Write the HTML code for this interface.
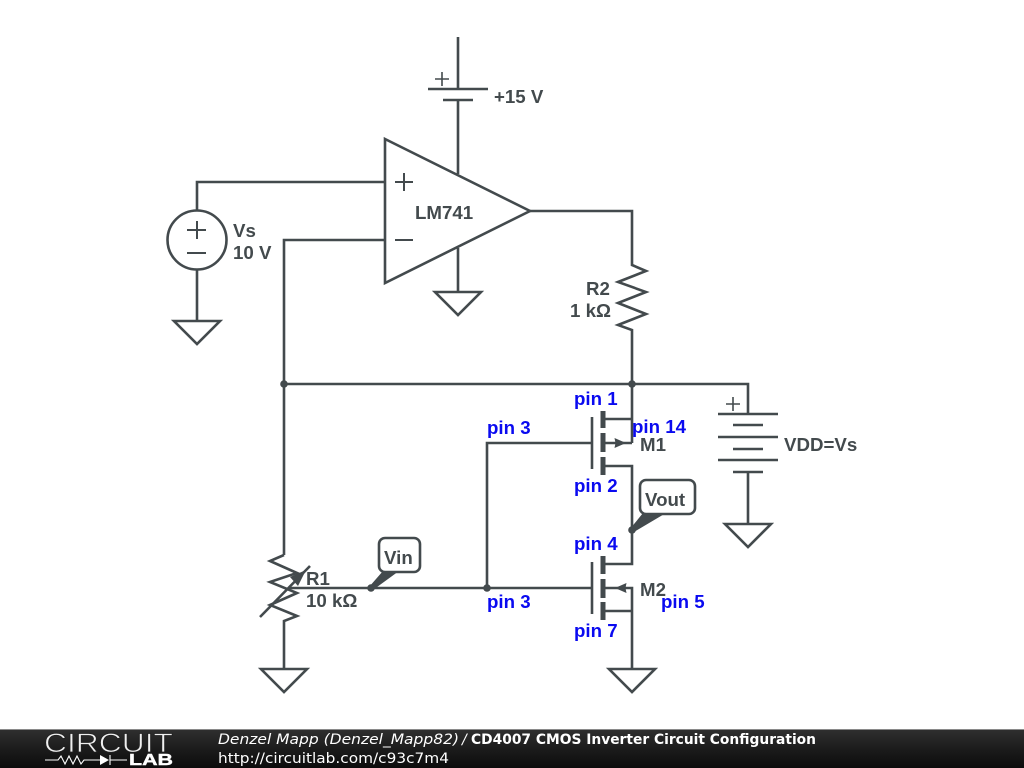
<!DOCTYPE html>
<html>
<head>
<meta charset="utf-8">
<title>CD4007 CMOS Inverter Circuit Configuration</title>
<style>
html,body{margin:0;padding:0;background:#fff;width:1024px;height:768px;overflow:hidden}
svg{display:block}
.w{fill:none;stroke:#434a4d;stroke-width:2.6;stroke-linejoin:miter}
.s{fill:none;stroke:#434a4d;stroke-width:2}
.t{font-family:"Liberation Sans",sans-serif;font-weight:bold;font-size:18.7px;fill:#434a4d}
.p{font-family:"Liberation Sans",sans-serif;font-weight:bold;font-size:18.7px;fill:#0a0af0}
.f{font-family:"DejaVu Sans",sans-serif;font-size:14px;fill:#fff}
</style>
</head>
<body>
<svg width="1024" height="768" viewBox="0 0 1024 768" xmlns="http://www.w3.org/2000/svg">
<defs>
<linearGradient id="bar" x1="0" y1="0" x2="0" y2="1">
<stop offset="0" stop-color="#303030"/><stop offset=".5" stop-color="#1c1c1c"/><stop offset="1" stop-color="#0c0c0c"/>
</linearGradient>
</defs>
<rect width="1024" height="768" fill="#fff"/>

<!-- supply battery -->
<path class="w" d="M458 37V89M428 89H488M443 100H473M458 100V174"/>
<path class="w" style="stroke-width:1.6" d="M435 79H449M442 72V86"/>
<text class="t" x="494" y="103">+15 V</text>

<!-- op amp -->
<path class="w" d="M385 139L530 211L385 283Z"/>
<path class="s" d="M395 182H413M404 173V191M395 240H413"/>
<text class="t" x="415" y="219">LM741</text>
<path class="w" d="M458 248V292M435 292H481L458 315Z"/>

<!-- Vs -->
<path class="w" d="M385 182H197V210M197 269V321M174 321H220L197 344Z"/>
<circle class="w" cx="197" cy="240" r="29.5"/>
<path class="s" d="M187 230H206M197 221V239M187 253H206"/>
<text class="t" x="233" y="237">Vs</text>
<text class="t" x="233" y="259">10 V</text>

<!-- feedback -->
<path class="w" d="M385 240H284V555"/>
<path class="w" d="M284 384H748V414"/>

<!-- output and R2 -->
<path class="w" d="M530 211H632V265L646 271L618 282L646 292L618 303L646 314L618 325L632 330V443"/>
<text class="t" x="586" y="295">R2</text>
<text class="t" x="570" y="317">1 kΩ</text>

<!-- VDD battery -->
<path class="w" d="M718 414H778M733 425H763M718 437H778M733 449H763M718 460H778M733 472H763M748 472V524M725 524H771L748 547Z"/>
<path class="w" style="stroke-width:1.6" d="M726 404H740M733 397V411"/>
<text class="t" x="784" y="451">VDD=Vs</text>

<!-- R1 -->
<path class="w" d="M284 555L270 561L297 573L270 582L297 593L270 605L297 616L284 621V669M261 669H307L284 692Z"/>
<path class="w" d="M260 617L310 566"/>
<path d="M290 577L306 570L298 586Z" fill="#434a4d"/>
<text class="t" x="306" y="585">R1</text>
<text class="t" x="306" y="607">10 kΩ</text>

<!-- input wire -->
<path class="w" d="M289 588H592M487 588V443H592"/>

<!-- M1 -->
<path class="w" d="M592 417V469"/>
<path d="M600.5 411h5v17h-5zM600.5 433h5v19h-5zM600.5 457h5v18h-5z" fill="#434a4d"/>
<path class="w" d="M605 419H632M605 443H632M605 466H632V564H605"/>
<path d="M626 443L614.5 438L615.5 443L614.5 448Z" fill="#434a4d"/>
<text class="t" x="640" y="451">M1</text>

<!-- M2 -->
<path class="w" d="M592 562V614"/>
<path d="M600.5 556h5v18h-5zM600.5 579h5v19h-5zM600.5 602h5v18h-5z" fill="#434a4d"/>
<path class="w" d="M605 588H632V669M605 611H632M609 669H655L632 692Z"/>
<path d="M615 588L626.5 583L625.5 588L626.5 593Z" fill="#434a4d"/>
<text class="t" x="640" y="596">M2</text>

<!-- nodes -->
<circle cx="284" cy="384" r="3.8" fill="#434a4d"/>
<circle cx="632" cy="384" r="3.8" fill="#434a4d"/>
<circle cx="632" cy="530" r="3.8" fill="#434a4d"/>
<circle cx="487" cy="588" r="3.8" fill="#434a4d"/>
<circle cx="371" cy="588" r="3.8" fill="#434a4d"/>

<!-- Vin flag -->
<path d="M369 587L373 590L399 571H383Z" fill="#434a4d"/>
<rect class="w" x="379" y="538" width="41" height="34" rx="6" style="fill:#fff"/>
<text class="t" x="384" y="564">Vin</text>

<!-- Vout flag -->
<path d="M630 529L634 532L666 513H643Z" fill="#434a4d"/>
<rect class="w" x="640" y="480" width="55" height="34" rx="6" style="fill:#fff"/>
<text class="t" x="645" y="506">Vout</text>

<!-- blue pin labels -->
<text class="p" x="574" y="405">pin 1</text>
<text class="p" x="632" y="433">pin 14</text>
<text class="p" x="487" y="434">pin 3</text>
<text class="p" x="574" y="492">pin 2</text>
<text class="p" x="574" y="550">pin 4</text>
<text class="p" x="487" y="608">pin 3</text>
<text class="p" x="661" y="608">pin 5</text>
<text class="p" x="574" y="637">pin 7</text>

<!-- footer -->
<rect x="0" y="729" width="1024" height="39" fill="url(#bar)"/>
<rect x="0" y="729" width="1024" height="1" fill="#8a8a8a"/>
<text x="44" y="752" font-family="'Liberation Sans',sans-serif" font-size="27" fill="#f0f0f0" stroke="#222" stroke-width="0.8" textLength="129" lengthAdjust="spacingAndGlyphs">CIRCUIT</text>
<path d="M45 760H58L61 756L65 764L69 756L73 764L77 756L81 764L84 760H100M110 760H127M110 755V765" fill="none" stroke="#fff" stroke-width="1.1"/>
<path d="M100 755L109 760L100 765Z" fill="#fff"/>
<text x="129" y="765" font-family="'Liberation Sans',sans-serif" font-weight="bold" font-size="15.5" fill="#fff" stroke="#fff" stroke-width="0.4" textLength="44" lengthAdjust="spacingAndGlyphs">LAB</text>
<text class="f" x="218" y="744" font-style="italic" textLength="241" lengthAdjust="spacingAndGlyphs">Denzel Mapp (Denzel_Mapp82)</text>
<text class="f" x="462" y="744" font-style="italic">/</text>
<text class="f" x="471" y="744" font-weight="bold" textLength="345" lengthAdjust="spacingAndGlyphs">CD4007 CMOS Inverter Circuit Configuration</text>
<text class="f" x="218" y="763" textLength="231" lengthAdjust="spacingAndGlyphs">http://circuitlab.com/c93c7m4</text>
</svg>
</body>
</html>
